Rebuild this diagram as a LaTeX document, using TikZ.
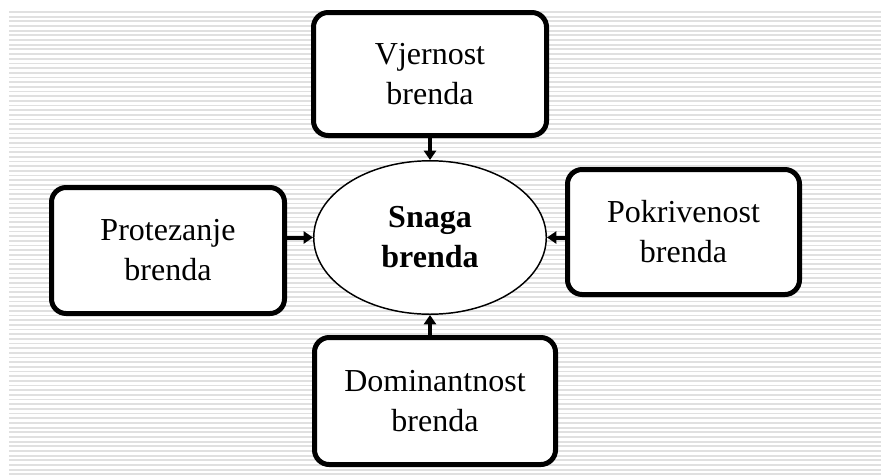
\documentclass[tikz,border=0pt]{standalone}
\usepackage{fontspec}
\setmainfont{Liberation Serif}
\usetikzlibrary{shapes.geometric,arrows.meta}
\begin{document}
\begin{tikzpicture}[x=0.75pt,y=-0.75pt,
  stripe/.style={draw=black!12,line width=1.3pt},
  boxnode/.style={draw=black,line width=3.75pt,rounded corners=11pt,fill=white,align=center,inner sep=0pt,font=\fontsize{24}{30}\selectfont},
  centernode/.style={ellipse,draw=black,line width=1.1pt,fill=white,align=center,inner sep=0pt,minimum width=174.4pt,minimum height=115.1pt,font=\fontsize{24}{30}\selectfont\bfseries},
  link/.style={line width=3pt,-{Triangle[length=7pt,width=9pt]}}]
\useasboundingbox (0,0) rectangle (881,475);
\foreach \i in {0,...,99}{
  \draw[stripe] (9,12+4.67*\i) -- (881,12+4.67*\i);
}
\node[boxnode,minimum width=174.75pt,minimum height=92.25pt] (vj) at (430,74) {Vjernost\\brenda};
\node[boxnode,minimum width=174.75pt,minimum height=94.5pt] (pr) at (168,250.5) {Protezanje\\brenda};
\node[boxnode,minimum width=174pt,minimum height=93.75pt] (po) at (683.5,232) {Pokrivenost\\brenda};
\node[boxnode,minimum width=180.75pt,minimum height=95.25pt] (do) at (435,401) {Dominantnost\\brenda};
\node[centernode] (sn) at (430,237.5) {Snaga\\brenda};
\draw[link] (vj.south) -- (sn.north);
\draw[link] (sn.west -| pr.east) -- (sn.west);
\draw[link] (sn.east -| po.west) -- (sn.east);
\draw[link] (sn.south |- do.north) -- (sn.south);
\end{tikzpicture}
\end{document}
